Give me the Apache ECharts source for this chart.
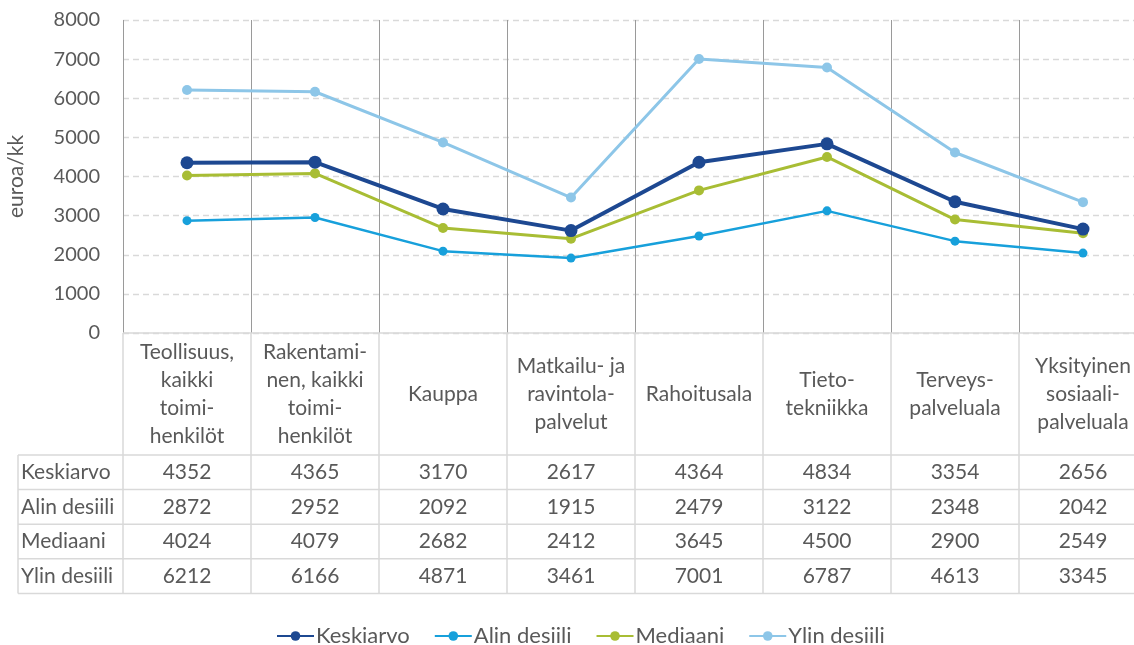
<!DOCTYPE html>
<html><head><meta charset="utf-8">
<script src="https://cdn.jsdelivr.net/npm/echarts@6/dist/echarts.min.js"></script>
<style>html,body{margin:0;padding:0;background:#fff}#c{width:1134px;height:645px}</style>
</head><body><div id="c"></div>
<script>
const categories = ["Teollisuus,\nkaikki\ntoimi-\nhenkilöt","Rakentami-\nnen, kaikki\ntoimi-\nhenkilöt","Kauppa","Matkailu- ja\nravintola-\npalvelut","Rahoitusala","Tieto-\ntekniikka","Terveys-\npalveluala","Yksityinen\nsosiaali-\npalveluala"];
const seriesNames = ["Keskiarvo","Alin desiili","Mediaani","Ylin desiili"];
const keskiarvo = [4352,4365,3170,2617,4364,4834,3354,2656];
const alinDesiili = [2872,2952,2092,1915,2479,3122,2348,2042];
const mediaani = [4024,4079,2682,2412,3645,4500,2900,2549];
const ylinDesiili = [6212,6166,4871,3461,7001,6787,4613,3345];
const yTicks = [0,1000,2000,3000,4000,5000,6000,7000,8000];
const yAxisName = "euroa/kk";

const FONT = "Lato";
const TXT = "#595959";
const colors = ["#1d4891","#17a0db","#a8bd34","#8dc6e8"];
const widths = [4,2.5,3,3];
const sizes = [13,9,10,10];
const dataSets = [keskiarvo, alinDesiili, mediaani, ylinDesiili];

const G = {left:123, top:20, width:1024, height:313};
const chart = echarts.init(document.getElementById('c'));
chart.setOption({
  animation:false,
  grid:{left:G.left, top:G.top, width:G.width, height:G.height, outerBoundsMode:'none', containLabel:false},
  legend:{top:620, left:271, itemWidth:37, itemHeight:12, itemGap:24,
    textStyle:{fontFamily:FONT, fontSize:22, color:TXT, padding:[0,0,0,-3]},
    data:seriesNames},
  xAxis:{type:'category', data:categories, boundaryGap:true,
    axisLine:{show:false}, axisTick:{show:false}, axisLabel:{show:false},
    splitLine:{show:true, lineStyle:{color:'#9a9a9a', width:1}}},
  yAxis:{type:'value', min:yTicks[0], max:yTicks[yTicks.length-1], interval:1000,
    name:yAxisName, nameLocation:'middle', nameGap:96,
    nameTextStyle:{fontFamily:FONT, fontSize:21, color:TXT},
    axisLine:{show:false}, axisTick:{show:false},
    axisLabel:{fontFamily:FONT, fontSize:20, color:TXT, margin:23, formatter:v=>String(v)},
    splitLine:{lineStyle:{color:'#d9d9d9', type:[6,4], width:1.3}}},
  series: seriesNames.map((n,i)=>({name:n, type:'line', data:dataSets[i],
    symbol:'circle', symbolSize:sizes[i], color:colors[i],
    lineStyle:{width:widths[i], color:colors[i]}, itemStyle:{color:colors[i]}, z:10-i}))
});

// data table below the plot
const gl = [];
const border = '#d9d9d9';
const px = i => chart.convertToPixel({xAxisIndex:0}, i);
const colW = px(1) - px(0);
const x0 = px(0) - colW/2;
const x1 = x0 + colW*categories.length;
const headTop = chart.convertToPixel({yAxisIndex:0}, 0), headBot = 455;
const rowH = 34.6;
const tableLeft = 18;
gl.push({type:'line', shape:{x1:x0,y1:headTop,x2:x1,y2:headTop}, style:{stroke:border, lineWidth:1.5}});
for (let r=0; r<=seriesNames.length; r++) {
  const y = headBot + r*rowH;
  gl.push({type:'line', shape:{x1:tableLeft,y1:y,x2:x1,y2:y}, style:{stroke:border, lineWidth:1.5}});
}
const tableBot = headBot + seriesNames.length*rowH;
gl.push({type:'line', shape:{x1:tableLeft,y1:headBot,x2:tableLeft,y2:tableBot}, style:{stroke:border, lineWidth:1.5}});
for (let c=0; c<=categories.length; c++) {
  const x = x0 + c*colW;
  gl.push({type:'line', shape:{x1:x,y1:headTop,x2:x,y2:tableBot}, style:{stroke:border, lineWidth:1.5}});
}
categories.forEach((cat,i)=>{
  const cx = px(i);
  gl.push({type:'text', x:cx, y:(headTop+headBot)/2, style:{text:cat, font:'21px '+FONT, fill:TXT, align:'center', verticalAlign:'middle', lineHeight:28}});
  dataSets.forEach((ds,r)=>{
    gl.push({type:'text', x:cx, y:headBot + r*rowH + rowH/2, style:{text:String(ds[i]), font:'21px '+FONT, fill:TXT, align:'center', verticalAlign:'middle'}});
  });
});
seriesNames.forEach((n,r)=>{
  gl.push({type:'text', x:21, y:headBot + r*rowH + rowH/2, style:{text:n, font:'21px '+FONT, fill:TXT, align:'left', verticalAlign:'middle'}});
});
chart.setOption({graphic:gl});
</script></body></html>
